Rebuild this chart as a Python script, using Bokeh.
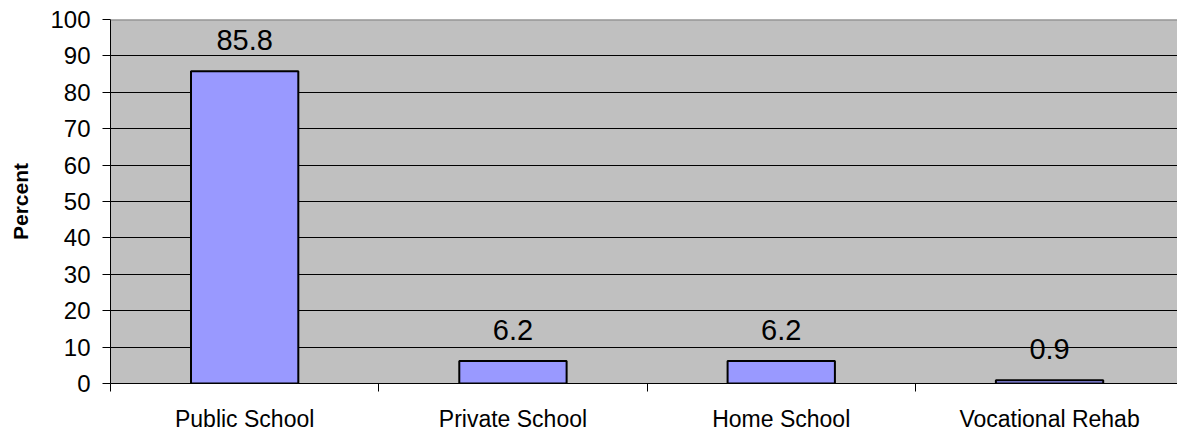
from bokeh.plotting import figure
from bokeh.models import ColumnDataSource, FixedTicker, Range1d, LabelSet, Span
from bokeh.core.properties import value
from bokeh.embed import file_html
from bokeh.resources import INLINE

categories = ["Public School", "Private School", "Home School", "Vocational Rehab"]
values = [85.8, 6.2, 6.2, 0.9]
value_labels = ["85.8", "6.2", "6.2", "0.9"]
y_ticks = [0, 10, 20, 30, 40, 50, 60, 70, 80, 90, 100]

FONT = "Liberation Sans"

centers = [i + 0.5 for i in range(len(categories))]
source = ColumnDataSource(dict(x=centers, top=values, label=value_labels))

p = figure(
    width=1177, height=432,
    frame_width=1067, frame_height=364,
    output_backend="svg", toolbar_location=None,
    x_range=Range1d(0, 1067 / 268.3), y_range=Range1d(0, 100),
    min_border_left=110, min_border_right=0, min_border_top=19, min_border_bottom=49,
)
p.background_fill_color = "#C0C0C0"
p.border_fill_color = "white"
p.outline_line_color = None

top_line = Span(location=100, dimension="width", line_color="#808080", line_width=2)
p.add_layout(top_line)

p.vbar(x="x", top="top", width=0.4, bottom=0, source=source,
       fill_color="#9999FF", line_color="black", line_width=2)

labels = LabelSet(x="x", y="top", text="label", source=source,
                  text_align="center", text_baseline="alphabetic", y_offset=21,
                  text_font=value(FONT), text_font_size="29px", text_color="black")
p.add_layout(labels)

# x axis
p.xaxis.ticker = FixedTicker(ticks=centers, minor_ticks=list(range(len(categories) + 1)))
p.xaxis.major_label_overrides = {c: cat for c, cat in zip(centers, categories)}
p.xaxis.major_tick_out = 0
p.xaxis.major_tick_in = 0
p.xaxis.minor_tick_out = 8
p.xaxis.minor_tick_in = 0
p.xaxis.minor_tick_line_color = "black"
p.xaxis.axis_line_color = "black"
p.xaxis.major_label_text_font = FONT
p.xaxis.major_label_text_font_size = "23px"
p.xaxis.major_label_text_color = "black"
p.xaxis.major_label_standoff = 14

# y axis
p.yaxis.ticker = FixedTicker(ticks=y_ticks, minor_ticks=[])
p.yaxis.major_tick_out = 8
p.yaxis.major_tick_in = 0
p.yaxis.major_tick_line_color = "black"
p.yaxis.axis_line_color = "black"
p.yaxis.major_label_text_font = FONT
p.yaxis.major_label_text_font_size = "24px"
p.yaxis.major_label_text_color = "black"
p.yaxis.major_label_standoff = 12
p.yaxis.axis_label = "Percent"
p.yaxis.axis_label_text_font = FONT
p.yaxis.axis_label_text_font_size = "21px"
p.yaxis.axis_label_text_font_style = "bold"
p.yaxis.axis_label_text_color = "black"
p.yaxis.axis_label_standoff = 15

# grids
p.xgrid.visible = False
p.ygrid.ticker = FixedTicker(ticks=[t for t in y_ticks if 0 < t < 100])
p.ygrid.grid_line_color = "black"
p.ygrid.grid_line_width = 1

open("out.html", "w").write(file_html(p, INLINE))
